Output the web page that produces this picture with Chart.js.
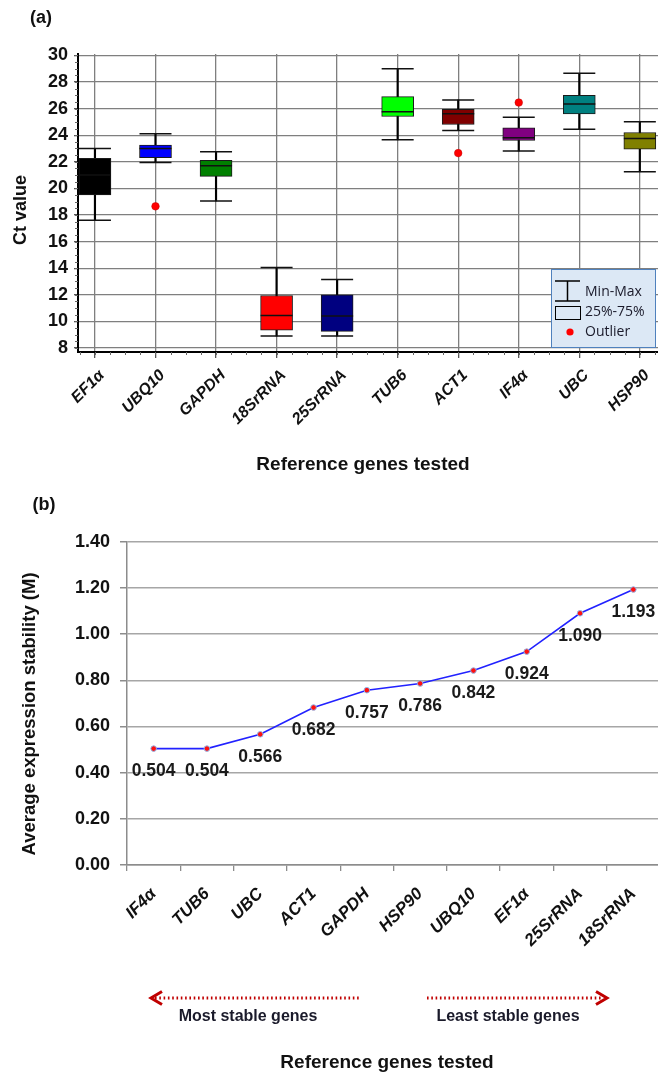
<!DOCTYPE html>
<html>
<head>
<meta charset="utf-8">
<script src="https://cdn.jsdelivr.net/npm/chart.js@4.4.1/dist/chart.umd.min.js"></script>
<style>
  html, body { margin: 0; padding: 0; background: #fff; overflow: hidden; }
  #wrapA { position: absolute; left: 0; top: 0; width: 658px; height: 480px; }
  #wrapB { position: absolute; left: 0; top: 480px; width: 660px; height: 593px; }
</style>
</head>
<body>
<div id="wrapA"><canvas id="chartA" width="658" height="480"></canvas></div>
<div id="wrapB"><canvas id="chartB" width="660" height="593"></canvas></div>
<script>
// ---- (a) Ct values per reference gene (box plot)
const genesA = ['EF1α', 'UBQ10', 'GAPDH', '18SrRNA', '25SrRNA', 'TUB6', 'ACT1', 'IF4α', 'UBC', 'HSP90']
const minA = [17.6, 21.95, 19.05, 8.9, 8.9, 23.65, 24.35, 22.8, 24.45, 21.25]
const q1A = [19.5, 22.3, 20.9, 9.35, 9.25, 25.4, 24.8, 23.6, 25.6, 22.95]
const medA = [21.0, 23.0, 21.7, 10.45, 10.4, 25.75, 25.6, 23.8, 26.35, 23.75]
const q3A = [22.25, 23.25, 22.1, 11.95, 12.0, 26.9, 25.95, 24.55, 27.0, 24.2]
const maxA = [23.0, 24.1, 22.75, 14.05, 13.15, 29.0, 26.65, 25.35, 28.65, 25.0]
const outlierGenes = ['UBQ10', 'ACT1', 'IF4α']
const outlierVals = [18.65, 22.65, 26.45]
const boxColors = ['#000000', '#0000ff', '#008000', '#ff0000', '#000080', '#00ff00', '#800000', '#800080', '#008080', '#808000']
const ctTicks = [8, 10, 12, 14, 16, 18, 20, 22, 24, 26, 28, 30]

// ---- (b) geNorm average expression stability
const genesB = ['IF4α', 'TUB6', 'UBC', 'ACT1', 'GAPDH', 'HSP90', 'UBQ10', 'EF1α', '25SrRNA', '18SrRNA']
const stabilityB = [0.504, 0.504, 0.566, 0.682, 0.757, 0.786, 0.842, 0.924, 1.090, 1.193]

const FONT = '"Liberation Sans", Arial, sans-serif'
Chart.defaults.font.family = FONT
Chart.defaults.animation = false

function text(ctx, str, x, y, font, color, align, rot) {
    ctx.save()
    ctx.font = font
    ctx.fillStyle = color || '#000'
    ctx.textAlign = align || 'center'
    ctx.textBaseline = 'middle'
    ctx.translate(x, y)
    if (rot) ctx.rotate(rot)
    ctx.fillText(str, 0, 0)
    ctx.restore()
}

// extra drawing for (a): titles, minor ticks, legend
const decoA = {
    id: 'decoA',
    afterDraw(chart) {
        const ctx = chart.ctx, a = chart.chartArea
        const xs = chart.scales.x, ys = chart.scales.y
        ctx.save()
        ctx.strokeStyle = '#666'
        ctx.lineWidth = 1
        // minor ticks on y
        for (let v = 8; v <= 30; v += 0.5) {
            const py = Math.round(ys.getPixelForValue(v)) + 0.5
            ctx.beginPath(); ctx.moveTo(a.left - 3, py); ctx.lineTo(a.left, py); ctx.stroke()
        }
        // minor ticks on x
        for (let v = -0.25; v <= 9.3; v += 0.25) {
            const px = Math.round(xs.getPixelForValue(v)) + 0.5
            ctx.beginPath(); ctx.moveTo(px, a.bottom); ctx.lineTo(px, a.bottom + 3); ctx.stroke()
        }
        // legend
        const lx = a.right - 107, ly = a.bottom - 83
        ctx.fillStyle = '#dce8f5'
        ctx.fillRect(lx, ly, 105, 79)
        ctx.strokeStyle = '#4f81bd'
        ctx.lineWidth = 1
        ctx.strokeRect(lx + 0.5, ly + 0.5, 104, 78)
        ctx.strokeStyle = '#000'
        ctx.lineWidth = 1.5
        ctx.beginPath()
        ctx.moveTo(lx + 4, ly + 12); ctx.lineTo(lx + 29, ly + 12)
        ctx.moveTo(lx + 16.5, ly + 12); ctx.lineTo(lx + 16.5, ly + 32)
        ctx.moveTo(lx + 4, ly + 32); ctx.lineTo(lx + 29, ly + 32)
        ctx.stroke()
        ctx.lineWidth = 1
        ctx.strokeRect(lx + 4.5, ly + 37.5, 25, 13)
        ctx.fillStyle = '#ff0000'
        ctx.beginPath(); ctx.arc(lx + 19, ly + 63, 3.6, 0, Math.PI * 2); ctx.fill()
        const lf = '14px "Open Sans", sans-serif'
        text(ctx, 'Min-Max', lx + 34, ly + 23, lf, '#1a1a2a', 'left')
        text(ctx, '25%-75%', lx + 34, ly + 43, lf, '#1a1a2a', 'left')
        text(ctx, 'Outlier', lx + 34, ly + 63, lf, '#1a1a2a', 'left')
        // titles
        text(ctx, '(a)', 41, 18, 'bold 18px ' + FONT, '#111')
        text(ctx, 'Ct value', 21, 210, 'bold 18px ' + FONT, '#111', 'center', -Math.PI / 2)
        text(ctx, 'Reference genes tested', 363, 465, 'bold 19px ' + FONT, '#111')
        ctx.restore()
    }
}

new Chart(document.getElementById('chartA'), {
    type: 'bar',
    data: {
        datasets: [
            {   // whisker stems
                type: 'bar',
                data: genesA.map((g, i) => ({ x: i, y: [minA[i], maxA[i]] })),
                backgroundColor: '#000',
                barThickness: 1.5,
                grouped: false,
                order: 4
            },
            {   // boxes 25%-75%
                type: 'bar',
                data: genesA.map((g, i) => ({ x: i, y: [q1A[i], q3A[i]] })),
                backgroundColor: boxColors,
                borderColor: '#1a1a1a',
                borderWidth: 1,
                borderSkipped: false,
                barThickness: 32,
                grouped: false,
                order: 3
            },
            {   // whisker caps
                type: 'scatter',
                data: genesA.flatMap((g, i) => [{ x: i, y: minA[i] }, { x: i, y: maxA[i] }]),
                pointStyle: 'line',
                pointRadius: 16,
                pointBorderColor: '#111',
                pointBorderWidth: 1.5,
                order: 2
            },
            {   // medians
                type: 'scatter',
                data: genesA.map((g, i) => ({ x: i, y: medA[i] })),
                pointStyle: 'line',
                pointRadius: 16,
                pointBorderColor: '#111',
                pointBorderWidth: 1.5,
                order: 1
            },
            {   // outliers
                type: 'scatter',
                data: outlierGenes.map((g, k) => ({ x: genesA.indexOf(g), y: outlierVals[k] })),
                pointStyle: 'circle',
                pointRadius: 3.8,
                pointBackgroundColor: '#ff0000',
                pointBorderColor: '#c00000',
                pointBorderWidth: 0.5,
                order: 0
            }
        ]
    },
    options: {
        responsive: false,
        layout: { autoPadding: false, padding: { top: 54, left: 0, right: 0, bottom: 0 } },
        plugins: { legend: { display: false }, tooltip: { enabled: false } },
        scales: {
            x: {
                type: 'linear',
                offset: false,
                min: -0.28,
                max: 9.3,
                afterBuildTicks: s => { s.ticks = genesA.map((g, i) => ({ value: i })) },
                afterFit: s => { s.height = 128; s.paddingRight = 0 },
                grid: { offset: false, color: '#7f7f7f', lineWidth: 1.3, tickLength: 6, tickColor: '#555' },
                border: { color: '#000', width: 2 },
                ticks: {
                    autoSkip: false,
                    minRotation: 45,
                    maxRotation: 45,
                    padding: 8,
                    labelOffset: 7,
                    color: '#111',
                    font: { size: 16, weight: 'bold', style: 'italic' },
                    callback: v => genesA[v]
                }
            },
            y: {
                type: 'linear',
                min: 7.7,
                max: 30.1,
                afterBuildTicks: s => { s.ticks = ctTicks.map(v => ({ value: v })) },
                afterFit: s => { s.width = 78 },
                grid: { color: '#7f7f7f', lineWidth: 1.3, tickLength: 4, tickColor: '#555' },
                border: { color: '#000', width: 2 },
                ticks: {
                    padding: 6,
                    color: '#111',
                    font: { size: 18, weight: 'bold' }
                }
            }
        }
    },
    plugins: [decoA]
})

// extra drawing for (b): value labels, titles, arrows
function dottedArrow(ctx, x1, x2, y, dir) {
    ctx.save()
    ctx.strokeStyle = '#c00000'
    ctx.lineWidth = 3
    ctx.setLineDash([1.6, 2.7])
    ctx.beginPath(); ctx.moveTo(x1, y); ctx.lineTo(x2, y); ctx.stroke()
    ctx.setLineDash([])
    const tip = dir < 0 ? x1 - 4 : x2 + 4
    ctx.lineWidth = 3
    ctx.beginPath()
    ctx.moveTo(tip - dir * 11, y - 6.5); ctx.lineTo(tip, y); ctx.lineTo(tip - dir * 11, y + 6.5)
    ctx.stroke()
    ctx.restore()
}

const decoB = {
    id: 'decoB',
    afterDatasetsDraw(chart) {
        const ctx = chart.ctx
        const meta = chart.getDatasetMeta(0)
        meta.data.forEach((pt, i) => {
            text(ctx, stabilityB[i].toFixed(3), pt.x, pt.y + 23, 'bold 17.5px ' + FONT, '#1a1a1a')
        })
    },
    afterDraw(chart) {
        const ctx = chart.ctx
        text(ctx, '(b)', 44, 25, 'bold 18px ' + FONT, '#111')
        text(ctx, 'Average expression stability (M)', 30, 234, 'bold 18.5px ' + FONT, '#111', 'center', -Math.PI / 2)
        dottedArrow(ctx, 155, 360, 518, -1)
        dottedArrow(ctx, 427, 603, 518, 1)
        text(ctx, 'Most stable genes', 248, 537, 'bold 16px ' + FONT, '#1a1a2a')
        text(ctx, 'Least stable genes', 508, 537, 'bold 16px ' + FONT, '#1a1a2a')
        text(ctx, 'Reference genes tested', 387, 583, 'bold 19px ' + FONT, '#111')
    }
}

new Chart(document.getElementById('chartB'), {
    type: 'line',
    data: {
        labels: genesB,
        datasets: [{
            data: stabilityB,
            borderColor: '#2222ff',
            borderWidth: 1.6,
            tension: 0,
            pointStyle: 'circle',
            pointRadius: 2.8,
            pointBackgroundColor: '#ff1010',
            pointBorderColor: '#8fb6ea',
            pointBorderWidth: 1
        }]
    },
    options: {
        responsive: false,
        layout: { autoPadding: false, padding: { top: 61.7, left: 0, right: 0, bottom: 0 } },
        plugins: { legend: { display: false }, tooltip: { enabled: false } },
        scales: {
            x: {
                type: 'category',
                offset: true,
                afterFit: s => { s.height = 208; s.paddingRight = 0 },
                grid: { offset: true, drawOnChartArea: false, tickLength: 6, color: '#8c8c8c', lineWidth: 1.3 },
                border: { color: '#8c8c8c', width: 1.5 },
                ticks: {
                    autoSkip: false,
                    minRotation: 45,
                    maxRotation: 45,
                    padding: 13,
                    color: '#111',
                    font: { size: 17, weight: 'bold', style: 'italic' }
                }
            },
            y: {
                min: 0,
                max: 1.4,
                afterFit: s => { s.width = 127 },
                grid: { color: '#a6a6a6', lineWidth: 1.5, tickLength: 7, tickColor: '#8c8c8c' },
                border: { color: '#8c8c8c', width: 1.5 },
                ticks: {
                    stepSize: 0.2,
                    padding: 10,
                    color: '#111',
                    font: { size: 18, weight: 'bold' },
                    callback: v => v.toFixed(2)
                }
            }
        }
    },
    plugins: [decoB]
})
</script>
</body>
</html>
